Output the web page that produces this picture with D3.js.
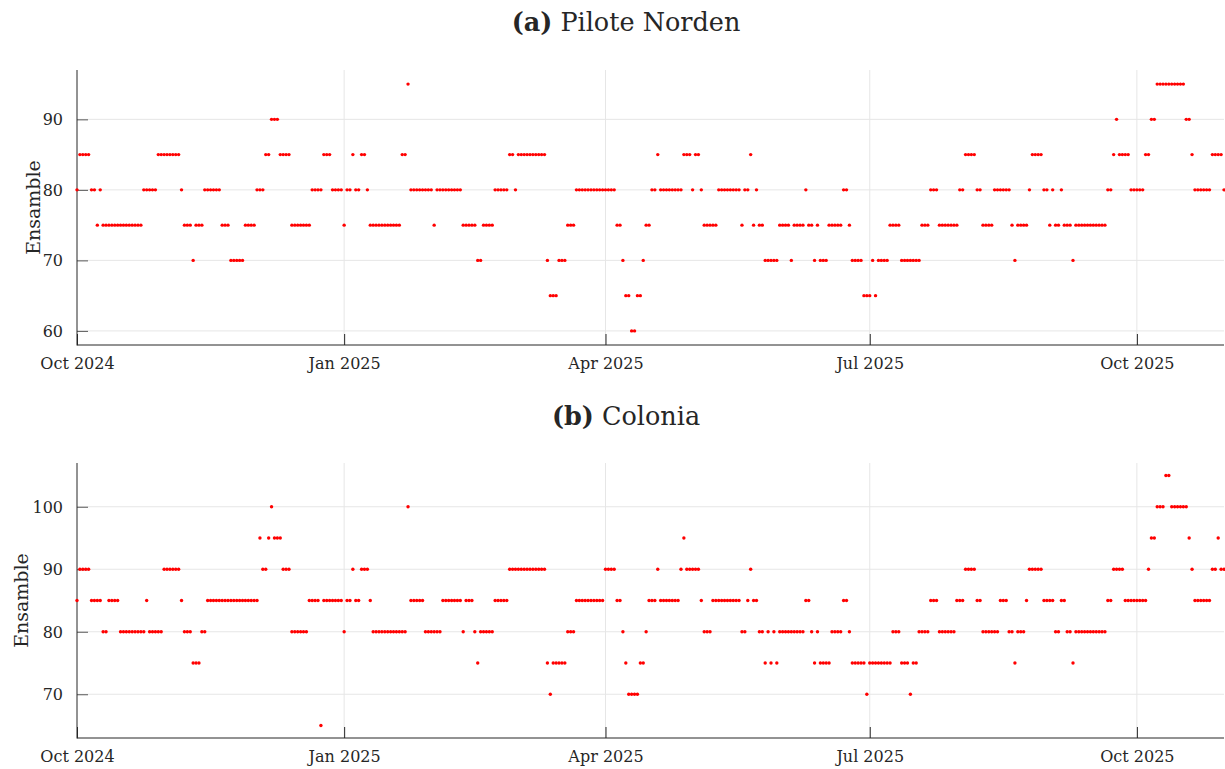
<!DOCTYPE html>
<html>
<head>
<meta charset="utf-8">
<script src="https://cdn.jsdelivr.net/npm/d3@7"></script>
<style>
  body { margin: 0; background: #fff; }
  svg { display: block; }
  text { font-family: "DejaVu Serif", "Liberation Serif", serif; fill: #262626; }
</style>
</head>
<body>
<div id="chart"></div>
<script>
// one value per day, starting 1 Oct 2024
var START_DATE = new Date(2024, 9, 1);
var END_DATE = new Date(2025, 9, 31);

var tickDates = [
  new Date(2024, 9, 1), new Date(2025, 0, 1), new Date(2025, 3, 1),
  new Date(2025, 6, 1), new Date(2025, 9, 1)
];

var piloteNorden = [
  80, 85, 85, 85, 85, 80, 80, 75, 80,
  75, 75, 75, 75, 75, 75, 75, 75, 75, 75, 75, 75, 75, 75,
  80, 80, 80, 80, 80, 85, 85, 85, 85, 85, 85, 85, 85, 80,
  75, 75, 75, 70, 75, 75, 75, 80, 80, 80, 80, 80, 80,
  75, 75, 75, 70, 70, 70, 70, 70, 75, 75, 75, 75, 80, 80, 80,
  85, 85, 90, 90, 90, 85, 85, 85, 85, 75, 75, 75, 75, 75, 75, 75,
  80, 80, 80, 80, 85, 85, 85, 80, 80, 80, 80, 75, 80, 80, 85, 80, 80, 85, 85, 80,
  75, 75, 75, 75, 75, 75, 75, 75, 75, 75, 75, 85, 85, 95,
  80, 80, 80, 80, 80, 80, 80, 80, 75, 80, 80, 80, 80, 80, 80, 80, 80, 80,
  75, 75, 75, 75, 75, 70, 70, 75, 75, 75, 75, 80, 80, 80, 80, 80, 85, 85, 80,
  85, 85, 85, 85, 85, 85, 85, 85, 85, 85, 70, 65, 65, 65, 70, 70, 70, 75, 75, 75,
  80, 80, 80, 80, 80, 80, 80, 80, 80, 80, 80, 80, 80, 80,
  75, 75, 70, 65, 65, 60, 60, 65, 65, 70, 75, 75, 80, 80, 85,
  80, 80, 80, 80, 80, 80, 80, 80, 85, 85, 85, 80, 85, 85, 80,
  75, 75, 75, 75, 75, 80, 80, 80, 80, 80, 80, 80, 80, 75, 80, 80, 85, 75, 80, 75, 75,
  70, 70, 70, 70, 70, 75, 75, 75, 75, 70, 75, 75, 75, 75, 80, 75, 75, 70, 75, 70, 70, 70,
  75, 75, 75, 75, 75, 80, 80, 75, 70, 70, 70, 70, 65, 65, 65, 70, 65, 70, 70, 70, 70,
  75, 75, 75, 75, 70, 70, 70, 70, 70, 70, 70, 75, 75, 75, 80, 80, 80, 75, 75, 75, 75, 75, 75, 75,
  80, 80, 85, 85, 85, 85, 80, 80, 75, 75, 75, 75, 80, 80, 80, 80, 80, 80, 75, 70, 75, 75, 75, 75, 80,
  85, 85, 85, 85, 80, 80, 75, 80, 75, 75, 80, 75, 75, 75, 70,
  75, 75, 75, 75, 75, 75, 75, 75, 75, 75, 75, 80, 80, 85, 90,
  85, 85, 85, 85, 80, 80, 80, 80, 80, 85, 85, 90, 90,
  95, 95, 95, 95, 95, 95, 95, 95, 95, 95, 90, 90, 85, 80, 80, 80, 80, 80, 80, 85, 85, 85, 85, 80
];

var colonia = [
  85, 90, 90, 90, 90, 85, 85, 85, 85, 80, 80, 85, 85, 85, 85,
  80, 80, 80, 80, 80, 80, 80, 80, 80, 85, 80, 80, 80, 80, 80,
  90, 90, 90, 90, 90, 90, 85, 80, 80, 80, 75, 75, 75, 80, 80,
  85, 85, 85, 85, 85, 85, 85, 85, 85, 85, 85, 85, 85, 85, 85, 85, 85, 85,
  95, 90, 90, 95, 100, 95, 95, 95, 90, 90, 90,
  80, 80, 80, 80, 80, 80, 85, 85, 85, 85, 65, 85, 85, 85, 85, 85, 85, 85,
  80, 85, 85, 90, 85, 85, 90, 90, 90, 85,
  80, 80, 80, 80, 80, 80, 80, 80, 80, 80, 80, 80, 100, 85, 85, 85, 85, 85,
  80, 80, 80, 80, 80, 80, 85, 85, 85, 85, 85, 85, 85, 80, 85, 85, 85, 80, 75,
  80, 80, 80, 80, 80, 85, 85, 85, 85, 85, 90, 90, 90, 90, 90, 90, 90, 90, 90, 90, 90, 90, 90,
  75, 70, 75, 75, 75, 75, 75, 80, 80, 80, 85, 85, 85, 85, 85, 85, 85, 85, 85, 85,
  90, 90, 90, 90, 85, 85, 80, 75, 70, 70, 70, 70, 75, 75, 80, 85, 85, 85,
  90, 85, 85, 85, 85, 85, 85, 85, 90, 95, 90, 90, 90, 90, 90, 85, 80, 80, 80,
  85, 85, 85, 85, 85, 85, 85, 85, 85, 85, 80, 80, 85, 90, 85, 85, 80, 80, 75, 80, 75, 80, 75,
  80, 80, 80, 80, 80, 80, 80, 80, 80, 85, 85, 80, 75, 80, 75, 75, 75, 75, 80, 80, 80, 80, 85, 85, 80,
  75, 75, 75, 75, 75, 70, 75, 75, 75, 75, 75, 75, 75, 75, 80, 80, 80, 75, 75, 75, 70, 75, 75, 80, 80, 80, 80,
  85, 85, 85, 80, 80, 80, 80, 80, 80, 85, 85, 85, 90, 90, 90, 90, 85, 85, 80, 80, 80, 80, 80, 80, 85, 85, 85, 80, 80, 75, 80, 80, 80, 85,
  90, 90, 90, 90, 90, 85, 85, 85, 85, 80, 80, 85, 85, 80, 80, 75, 80, 80, 80, 80, 80, 80, 80, 80, 80, 80, 80, 85, 85,
  90, 90, 90, 90, 85, 85, 85, 85, 85, 85, 85, 85, 90, 95, 95, 100, 100, 100, 105, 105,
  100, 100, 100, 100, 100, 100, 95, 90, 85, 85, 85, 85, 85, 85, 90, 90, 95, 90, 90
];

var panels = [
  { label: '(a)', name: 'Pilote Norden', values: piloteNorden,
    yDomain: [58, 97], yTicks: [60, 70, 80, 90], top: 70, titleY: 31, labelX: 40 },
  { label: '(b)', name: 'Colonia', values: colonia,
    yDomain: [63, 107], yTicks: [70, 80, 90, 100], top: 463, titleY: 425, labelX: 28 }
];

var WIDTH = 1225, HEIGHT = 769;
var LEFT = 77, RIGHT = 1224, PLOT_H = 275;
var TITLE_X = 626;
var TICK_LEN = 11;
var AXIS_COLOR = '#262626', GRID_COLOR = '#e6e6e6';

var svg = d3.select('#chart').append('svg')
    .attr('width', WIDTH)
    .attr('height', HEIGHT);

var x = d3.scaleTime()
    .domain([START_DATE, END_DATE])
    .range([LEFT, RIGHT]);

function drawPanel(p) {
  'use strict';
  var y, g, data, title, yAxis, xAxis;

  y = d3.scaleLinear()
      .domain(p.yDomain)
      .range([p.top + PLOT_H, p.top]);

  data = p.values.map(function (v, i) {
    return { date: d3.timeDay.offset(START_DATE, i), value: v };
  });

  g = svg.append('g');

  // grid
  g.append('g')
    .selectAll('line')
    .data(p.yTicks)
    .join('line')
      .attr('x1', LEFT).attr('x2', RIGHT)
      .attr('y1', function (d) { return y(d); })
      .attr('y2', function (d) { return y(d); })
      .attr('stroke', GRID_COLOR);

  g.append('g')
    .selectAll('line')
    .data(tickDates.slice(1))
    .join('line')
      .attr('x1', function (d) { return x(d); })
      .attr('x2', function (d) { return x(d); })
      .attr('y1', p.top).attr('y2', p.top + PLOT_H)
      .attr('stroke', GRID_COLOR);

  // y axis, ticks pointing inward
  yAxis = g.append('g')
      .attr('transform', 'translate(' + LEFT + ',0)')
      .call(d3.axisRight(y)
        .tickValues(p.yTicks)
        .tickSize(TICK_LEN)
        .tickSizeOuter(0));
  yAxis.select('.domain').remove();
  yAxis.selectAll('.tick line').attr('stroke', '#595959');
  yAxis.selectAll('.tick text')
      .attr('text-anchor', 'end')
      .attr('x', -14)
      .attr('dy', '0.35em')
      .style('font-size', '16px')
      .style('font-family', '"DejaVu Serif", serif')
      .attr('fill', AXIS_COLOR);

  // x axis, ticks pointing inward
  xAxis = g.append('g')
      .attr('transform', 'translate(0,' + (p.top + PLOT_H) + ')')
      .call(d3.axisTop(x)
        .tickValues(tickDates)
        .tickFormat(d3.timeFormat('%b %Y'))
        .tickSize(TICK_LEN)
        .tickSizeOuter(0));
  xAxis.select('.domain').remove();
  xAxis.selectAll('.tick line').attr('stroke', AXIS_COLOR);
  xAxis.selectAll('.tick text')
      .attr('y', 24)
      .attr('dy', 0)
      .style('font-size', '16px')
      .style('font-family', '"DejaVu Serif", serif')
      .attr('fill', AXIS_COLOR);

  // axis lines
  g.append('line')
      .attr('x1', LEFT).attr('x2', LEFT)
      .attr('y1', p.top).attr('y2', p.top + PLOT_H + 0.5)
      .attr('stroke', AXIS_COLOR);
  g.append('line')
      .attr('x1', LEFT).attr('x2', RIGHT)
      .attr('y1', p.top + PLOT_H).attr('y2', p.top + PLOT_H)
      .attr('stroke', AXIS_COLOR);

  // points
  g.append('g')
    .selectAll('circle')
    .data(data)
    .join('circle')
      .attr('cx', function (d) { return x(d.date); })
      .attr('cy', function (d) { return y(d.value); })
      .attr('r', 1.7)
      .attr('fill', '#ff0000');

  // y label
  g.append('text')
      .attr('transform', 'translate(' + p.labelX + ',' +
        (p.top + PLOT_H / 2) + ') rotate(-90)')
      .attr('text-anchor', 'middle')
      .style('font-size', '19px')
      .text('Ensamble');

  // title
  title = g.append('text')
      .attr('x', TITLE_X)
      .attr('y', p.titleY)
      .attr('text-anchor', 'middle')
      .style('font-size', '25.5px');
  title.append('tspan').attr('font-weight', 'bold').text(p.label);
  title.append('tspan').text('\u00a0' + p.name);
}

panels.forEach(drawPanel);
</script>
</body>
</html>
